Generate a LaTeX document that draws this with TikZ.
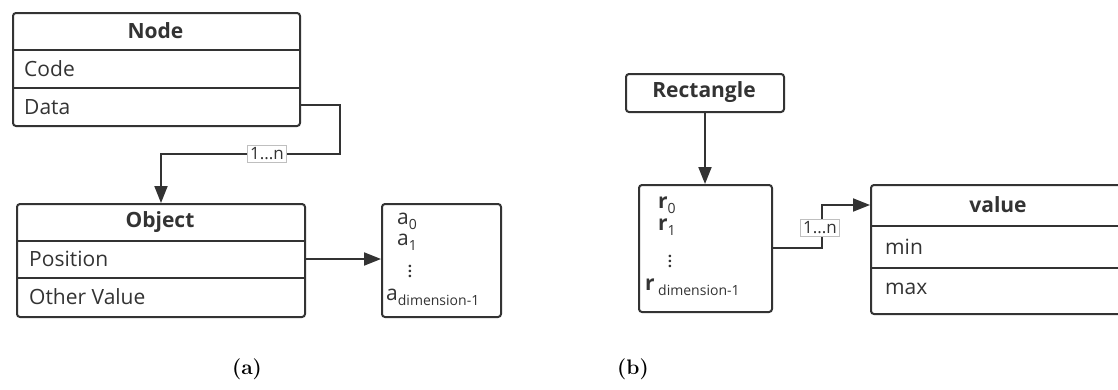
\documentclass[tikz,border=0pt]{standalone}
\usepackage{fontspec}
\setsansfont{Open Sans}
\usetikzlibrary{arrows.meta}
\definecolor{ln}{HTML}{333333}
\newcommand\sbs[1]{\raisebox{-0.45ex}{\fontsize{14}{16}\selectfont #1}}
\newcommand\mydots{\vbox{\baselineskip5pt\lineskiplimit0pt\hbox{.}\hbox{.}\hbox{.}}}
\begin{document}
\begin{tikzpicture}[x=1pt,y=-1pt,
  box/.style={draw=ln, line width=2pt, rounded corners=3pt, inner sep=0pt, anchor=north west},
  row/.style={anchor=west, inner sep=0pt, font=\sffamily\fontsize{21}{24}\selectfont, text=ln},
  ttl/.style={inner sep=0pt, font=\sffamily\fontsize{21}{24}\selectfont\bfseries, text=ln},
  dots/.style={inner sep=0pt, font=\sffamily\bfseries\fontsize{15}{15}\selectfont, text=ln},
  conn/.style={draw=ln, line width=2pt},
  arr/.style={conn, -{Triangle[length=17pt,width=13pt]}},
  mult/.style={draw=black!25, fill=white, line width=0.6pt, inner sep=2.5pt, font=\sffamily\fontsize{17}{19}\selectfont, text=ln},
  subcap/.style={font=\rmfamily\bfseries\fontsize{21}{24}\selectfont, text=black}
]
\useasboundingbox (0,0) rectangle (1118,389);
\clip (0,0) rectangle (1118,389);

% ---------- (a) ----------
\node[box, minimum width=287pt, minimum height=113pt] (nodebox) at (12,12) {};
\draw[conn] (12,50) -- (299,50);
\draw[conn] (12,88) -- (299,88);
\node[ttl] (nodet) at (155.5,31) {Node};
\node[row] (code) at (24,69) {Code};
\node[row] (data) at (24,107) {Data};

\node[box, minimum width=288pt, minimum height=113pt] (objbox) at (16,203) {};
\draw[conn] (16,241) -- (304,241);
\draw[conn] (16,278) -- (304,278);
\node[ttl] (objt) at (160,222) {Object};
\node[row] (pos) at (29,259) {Position};
\node[row] (other) at (29,297) {Other Value};

\node[box, minimum width=119pt, minimum height=113pt] (abox) at (381,203) {};
\node[row] (a0) at (397,221) {a\sbs{0}};
\node[row] (a1) at (397,242) {a\sbs{1}};
\node[dots] (adots) at (410,271) {\mydots};
\node[row] (an) at (386,297) {a\sbs{dimension-1}};

\draw[arr] (nodebox.east |- 0,105) -- ++(39,0) -- ++(0,49) -| (objbox.north);
\node[mult] (m1) at (267,154) {1...n};
\draw[arr] (objbox.east |- 0,259) -- (abox.west |- 0,259);

\node[subcap] (capa) at (247,369) {(a)};

% ---------- (b) ----------
\node[box, minimum width=158pt, minimum height=38pt] (rect) at (625,73) {};
\node[ttl] (rectt) at (704,92) {Rectangle};

\node[box, minimum width=133pt, minimum height=127pt] (rbox) at (638,184) {};
\node[row] (r0) at (658,205) {\textbf{r}\sbs{0}};
\node[row] (r1) at (658,227) {\textbf{r}\sbs{1}};
\node[dots] (rdots) at (670,261) {\mydots};
\node[row] (rn) at (645,287) {\textbf{r}\,\sbs{dimension-1}};

\node[box, minimum width=262pt, minimum height=129pt] (valbox) at (870,184) {};
\draw[conn] (870,226) -- (1132,226);
\draw[conn] (870,268) -- (1132,268);
\node[ttl] (valt) at (998,205) {value};
\node[row] (vmin) at (885,247) {min};
\node[row] (vmax) at (885,289) {max};

\draw[arr] (rect.south) -- (rect.south |- rbox.north);
\draw[arr] (rbox.east |- 0,248) -- ++(49,0) |- (valbox.west |- valt);
\node[mult] (m2) at (820,227.5) {1...n};

\node[subcap] (capb) at (633,369) {(b)};
\end{tikzpicture}
\end{document}
